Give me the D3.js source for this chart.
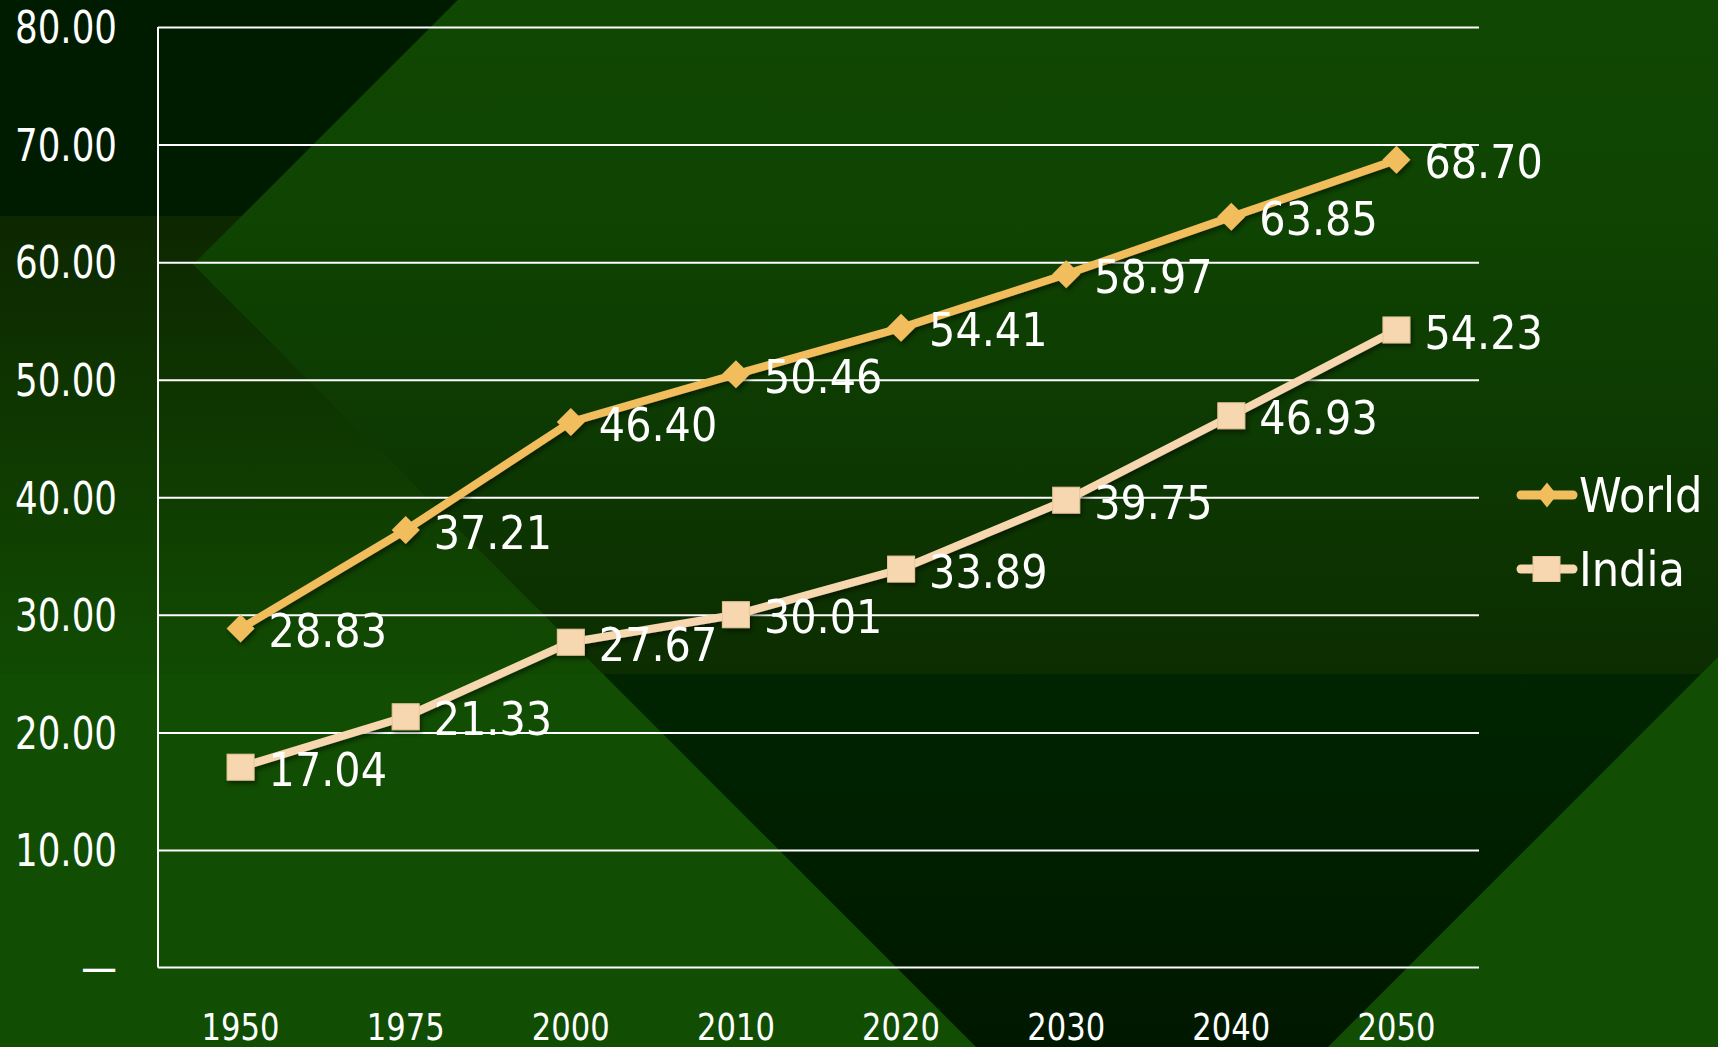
<!DOCTYPE html>
<html><head><meta charset="utf-8">
<script src="https://cdn.jsdelivr.net/npm/d3@7"></script>
<style>html,body{margin:0;padding:0;background:#114d02;overflow:hidden}</style>
</head><body><svg id="c" width="1718" height="1047"></svg>
<script>
const categories = ["1950","1975","2000","2010","2020","2030","2040","2050"];
const worldValues = [28.83,37.21,46.40,50.46,54.41,58.97,63.85,68.70];
const indiaValues = [17.04,21.33,27.67,30.01,33.89,39.75,46.93,54.23];
const yTicks = [0,10,20,30,40,50,60,70,80];
const seriesNames = ["World","India"];

const W = 1718, H = 1047;
const FONT = "'DejaVu Sans Condensed','DejaVu Sans',sans-serif";
const svg = d3.select("#c");
const defs = svg.append("defs");

// ---- background ----
function lg(id, stops){
  const g = defs.append("linearGradient").attr("id",id).attr("gradientUnits","userSpaceOnUse")
    .attr("x1",0).attr("y1",0).attr("x2",0).attr("y2",H);
  stops.forEach(s=>g.append("stop").attr("offset",s[0]).attr("stop-color",s[1]));
}
lg("gW",[[0,"#104702"],[216/H,"#0f4402"],[420/H,"#0d3a02"],[674/H,"#0c2d00"],[674/H,"#002500"],[1,"#001800"]]);
lg("gL",[[216/H,"#0d2700"],[674/H,"#114b02"]]);
const bg = svg.append("g");
bg.append("rect").attr("width",W).attr("height",H).attr("fill","#114d02");
bg.append("path").attr("d","M0,0L458,0L242,216L0,216Z").attr("fill","#001c00");
bg.append("path").attr("d","M0,216L242,216L193.5,264.5L603,674L0,674Z").attr("fill","url(#gL)");
bg.append("path").attr("d","M458,0L1718,0L1718,657L1328,1047L976,1047L193.5,264.5Z").attr("fill","url(#gW)");

// ---- scales ----
const x = d3.scaleBand().domain(categories).range([158,1479]);
const y = d3.scaleLinear().domain([0,80]).range([967.5,27]);
const cx = d => x(d) + x.bandwidth()/2;

// gridlines
const grid = svg.append("g").attr("transform","translate(158,0)")
  .call(d3.axisLeft(y).tickValues(yTicks.filter(v=>v>0)).tickSize(-(1479-158)).tickFormat(""));
grid.select(".domain").remove();
grid.selectAll("line").attr("stroke","#ffffff").attr("stroke-width",2);

// axis lines
svg.append("line").attr("x1",158).attr("x2",158).attr("y1",y(80)).attr("y2",y(0)).attr("stroke","#fff").attr("stroke-width",2);
svg.append("line").attr("x1",158).attr("x2",1479).attr("y1",y(0)).attr("y2",y(0)).attr("stroke","#fff").attr("stroke-width",2);

// y labels
const yax = svg.append("g").attr("transform","translate(158,0)")
  .call(d3.axisLeft(y).tickValues(yTicks).tickSize(0).tickPadding(41)
    .tickFormat(v => v===0 ? "—" : v.toFixed(2)));
yax.select(".domain").remove();
yax.selectAll("text").attr("fill","#fff").attr("font-family",FONT).attr("font-size",44)
  .attr("x",0).attr("transform","translate(-41,0) scale(0.9,1)")
  .attr("dy","0.36em");
yax.selectAll("text").filter(v=>v===0).attr("dy","0.33em");

// x labels
const xax = svg.append("g").attr("transform",`translate(0,${y(0)})`)
  .call(d3.axisBottom(x).tickSize(0).tickPadding(0));
xax.select(".domain").remove();
xax.selectAll("text").attr("fill","#fff").attr("font-family",FONT).attr("font-size",37)
  .attr("y",0).attr("transform","translate(0,59) scale(0.92,1)").attr("dy","0.36em");

// shadow filter
const f = defs.append("filter").attr("id","sh").attr("x","-20%").attr("y","-20%").attr("width","140%").attr("height","140%");
f.append("feDropShadow").attr("dx",2).attr("dy",3).attr("stdDeviation",2).attr("flood-color","#000").attr("flood-opacity",0.45);

const series = [
  {name:seriesNames[0], values:worldValues, color:"#f2bd5d", marker:"diamond"},
  {name:seriesNames[1], values:indiaValues, color:"#f6d7b0", marker:"square"}
];
const line = d3.line().x((d,i)=>cx(categories[i])).y(d=>y(d));
const diamond = s => `M0,${-s}L${s},0L0,${s}L${-s},0Z`;

series.forEach(s=>{
  const g = svg.append("g").attr("filter","url(#sh)");
  g.append("path").attr("d",line(s.values)).attr("fill","none").attr("stroke",s.color)
    .attr("stroke-width",8).attr("stroke-linejoin","round");
  s.values.forEach((v,i)=>{
    const px = cx(categories[i]), py = y(v);
    if(s.marker==="diamond"){
      g.append("path").attr("d",diamond(14)).attr("transform",`translate(${px},${py})`).attr("fill",s.color);
    } else {
      g.append("rect").attr("x",px-13.5).attr("y",py-13).attr("width",27).attr("height",26)
        .attr("fill",s.color).attr("stroke","#e8c698").attr("stroke-width",1);
    }
  });
});
// data labels
series.forEach(s=>{
  svg.append("g").selectAll("text").data(s.values).join("text")
    .attr("x",(d,i)=>cx(categories[i])+28).attr("y",d=>y(d)+2)
    .attr("dy","0.36em").attr("fill","#fff").attr("font-family",FONT).attr("font-size",46)
    .text(d=>d.toFixed(2));
});

// legend
const leg = svg.append("g");
series.forEach((s,i)=>{
  const ly = 495 + i*74;
  const g = leg.append("g");
  g.append("line").attr("x1",1521).attr("x2",1573).attr("y1",ly).attr("y2",ly)
    .attr("stroke",s.color).attr("stroke-width",9).attr("stroke-linecap","round");
  if(s.marker==="diamond"){
    g.append("path").attr("d",`M0,-12.5L10,0L0,12.5L-10,0Z`).attr("transform",`translate(1547,${ly})`).attr("fill",s.color);
  } else {
    g.append("rect").attr("x",1533).attr("y",ly-12.5).attr("width",27).attr("height",25).attr("fill",s.color)
      .attr("stroke","#e8c698").attr("stroke-width",1);
  }
  g.append("text").attr("x",1579).attr("y",ly).attr("dy","0.36em").attr("fill","#fff")
    .attr("font-family",FONT).attr("font-size",48).text(s.name);
});
</script></body></html>
